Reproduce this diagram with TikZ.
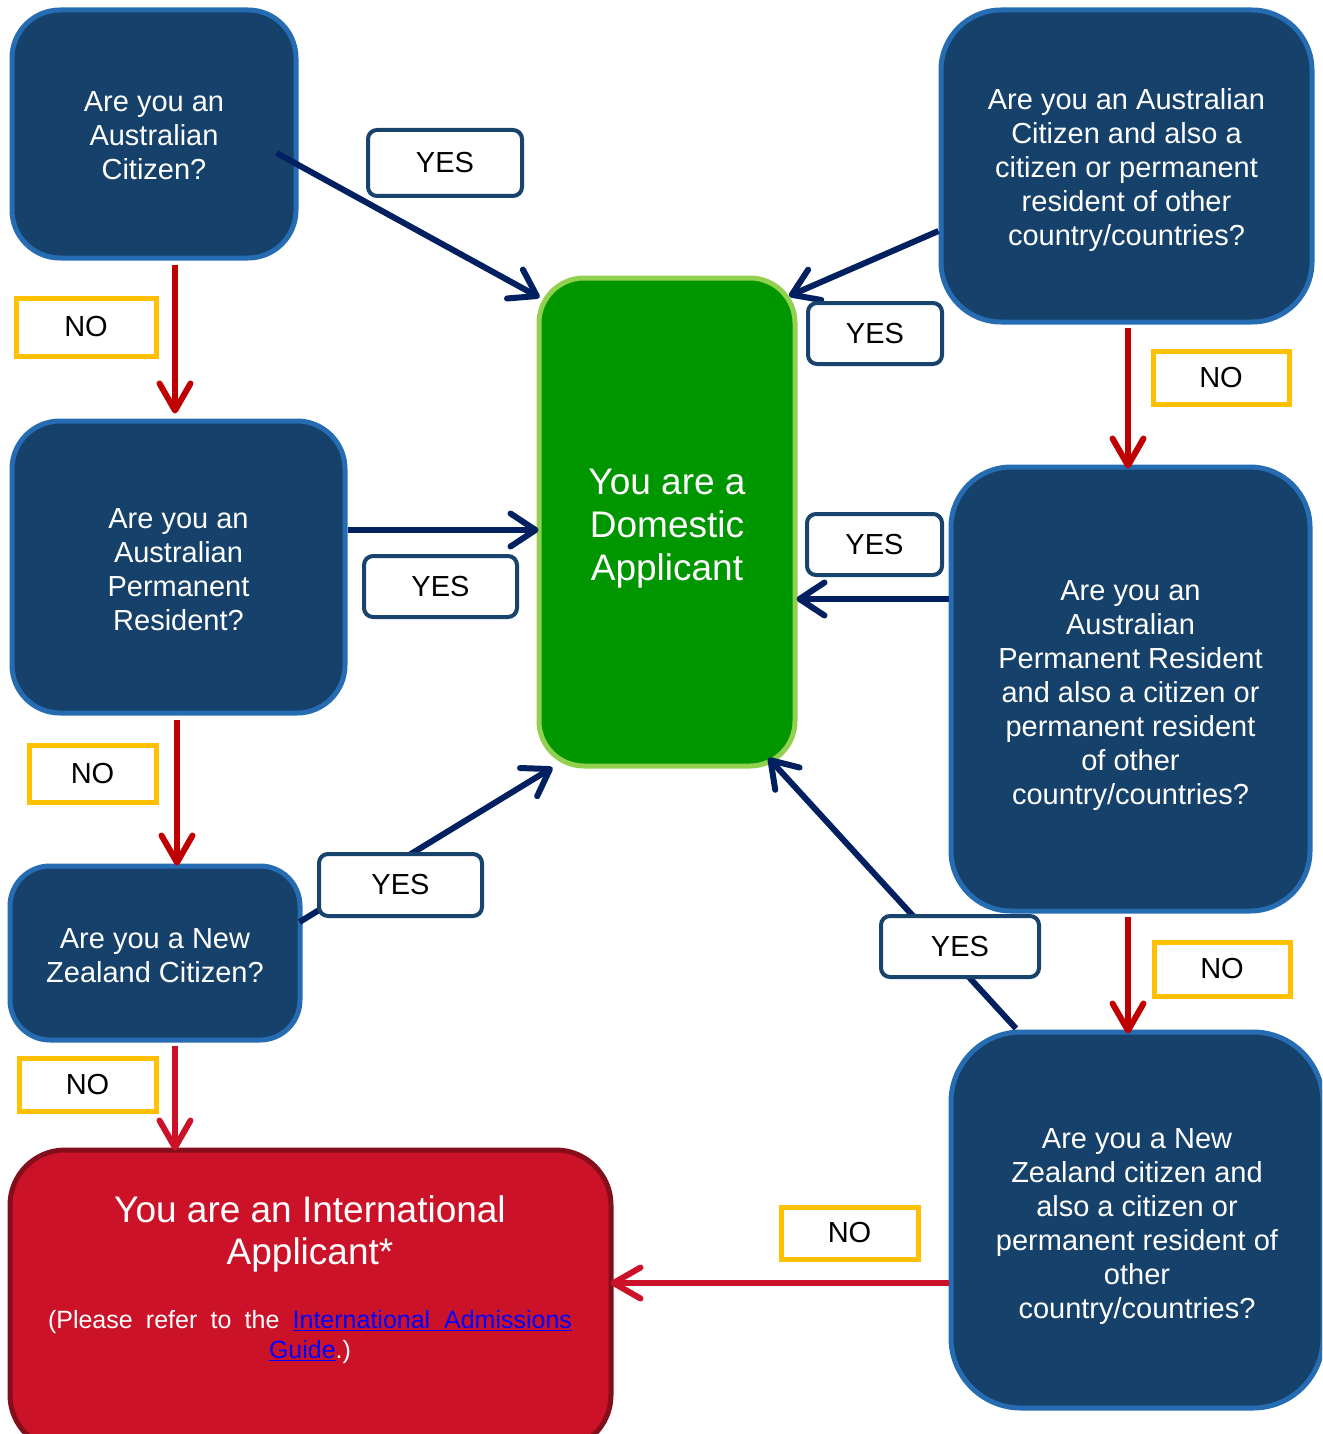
\documentclass[tikz,border=0pt]{standalone}
\usepackage{fontspec}
\setmainfont{Liberation Sans}
\usetikzlibrary{arrows.meta,calc}
\definecolor{qfill}{RGB}{22,65,106}
\definecolor{qborder}{RGB}{38,108,178}
\definecolor{gfill}{RGB}{0,150,0}
\definecolor{gborder}{RGB}{146,208,80}
\definecolor{rfill}{RGB}{204,18,40}
\definecolor{rborder}{RGB}{133,14,28}
\definecolor{yesborder}{RGB}{24,67,108}
\definecolor{noborder}{RGB}{255,192,0}
\definecolor{navyline}{RGB}{0,32,96}
\definecolor{redline}{RGB}{192,0,0}
\definecolor{redline2}{RGB}{204,18,40}
\definecolor{linkblue}{RGB}{0,0,255}
\newcommand\qlift[1]{\rule{0pt}{#1}}
\begin{document}
\begin{tikzpicture}[x=1pt,y=-1pt,
  qbox/.style={draw=qborder, fill=qfill, line width=5pt, rounded corners=48pt,
    text=white, align=center, font=\fontsize{29}{34}\selectfont, inner sep=0pt},
  gbox/.style={draw=gborder, fill=gfill, line width=5pt, rounded corners=45pt,
    text=white, align=center, font=\fontsize{37}{43}\selectfont, inner sep=0pt},
  rbox/.style={draw=rborder, fill=rfill, line width=5pt, rounded corners=55pt, inner sep=0pt},
  yeslabel/.style={draw=yesborder, fill=white, line width=4pt, rounded corners=9pt,
    font=\fontsize{29}{34}\selectfont, inner sep=0pt},
  nolabel/.style={draw=noborder, fill=white, line width=5pt,
    font=\fontsize{29}{34}\selectfont, inner sep=0pt},
  yesarrow/.style={draw=navyline, line width=6pt, -{Straight Barb[length=25pt,width=33pt,round]}},
  noarrow/.style={draw=redline, line width=6pt, -{Straight Barb[length=27pt,width=31pt,round]}},
  noarrowb/.style={draw=redline2, line width=6pt, -{Straight Barb[length=27pt,width=31pt,round]}},
  whitetext/.style={text=white, align=center, inner sep=0pt}
]
\useasboundingbox (0,0) rectangle (1322,1434);
\clip (0,0) rectangle (1322,1434);

% question boxes
\node[qbox, minimum width=284pt, minimum height=248pt] (A) at (154,134)
  {\qlift{24pt}Are you an\\Australian\\Citizen?};
\node[qbox, minimum width=333pt, minimum height=292pt] (B) at (178.5,567)
  {\qlift{25pt}Are you an\\Australian\\Permanent\\Resident?};
\node[qbox, minimum width=290pt, minimum height=174pt, rounded corners=40pt] (C) at (155,953)
  {\qlift{26pt}Are you a New\\Zealand Citizen?};
\node[qbox, minimum width=371pt, minimum height=312pt, rounded corners=60pt] (D) at (1126.5,166)
  {\qlift{29pt}Are you an Australian\\Citizen and also a\\citizen or permanent\\resident of other\\country/countries?};
\node[qbox, minimum width=359pt, minimum height=444pt, rounded corners=60pt] (E) at (1130.5,689)
  {\qlift{33pt}Are you an\\Australian\\Permanent Resident\\and also a citizen or\\permanent resident\\of other\\country/countries?};
\node[qbox, minimum width=372pt, minimum height=376pt, rounded corners=70pt] (F) at (1137,1220)
  {\qlift{33pt}Are you a New\\Zealand citizen and\\also a citizen or\\permanent resident of\\other\\country/countries?};

% outcome boxes
\node[gbox, minimum width=256pt, minimum height=488pt] (G) at (667,522)
  {\qlift{38.5pt}You are a\\Domestic\\Applicant};
\node[rbox, minimum width=601pt, minimum height=300pt] (I) at (310.5,1300) {};
\node[whitetext, font=\fontsize{37}{42}\selectfont] (Ititle) at (310,1230)
  {\qlift{35pt}You are an International\\Applicant*};
\node[whitetext, font=\fontsize{25}{30}\selectfont] (Inote) at (310,1335)
  {\qlift{22pt}\makebox[524pt][s]{(Please refer to the \textcolor{linkblue}{\underline{International\ \ Admissions}}}\\
   \textcolor{linkblue}{\underline{Guide}}.)};

% connectors
\draw[noarrow]  ($(A.south)+(21,4)$) -- ($(B.north)+(-3.5,-5)$);
\draw[yesarrow] ($(A.east)+(-22,19)$) -- ($(G.north west)+(3,22)$);
\draw[yesarrow] ($(B.east)+(0,-37)$) -- ($(G.west)+(2,8)$);
\draw[noarrow]  ($(B.south)+(-1.5,4)$) -- ($(C.north)+(22,2)$);
\draw[yesarrow] ($(C.east)+(-3,-31)$) -- ($(G.south west)+(16,-1)$);
\draw[noarrowb] ($(C.south)+(20,3)$) -- ($(I.north)+(-135.5,3)$);
\draw[yesarrow] ($(D.west)+(0,65)$) -- ($(G.north east)+(-8.5,20.5)$);
\draw[noarrow]  ($(D.south)+(1.5,3)$) -- ($(E.north)+(-2.5,4)$);
\draw[yesarrow] ($(E.west)+(0,-90)$) -- ($(G.east)+(-1,77)$);
\draw[noarrow]  ($(E.south)+(-2.5,3)$) -- ($(F.north)+(-9,4)$);
\draw[yesarrow] ($(F.north)+(-121,-1)$) -- ($(G.south east)+(-29,-10.5)$);
\draw[noarrowb] ($(F.west)+(0,63)$) -- ($(I.east)+(-3,-17)$);

% labels
\node[yeslabel, minimum width=154pt, minimum height=66pt] (y1) at (445,163) {YES};
\node[nolabel,  minimum width=140pt, minimum height=58pt] (n1) at (86,327) {NO};
\node[yeslabel, minimum width=134pt, minimum height=61pt] (y2) at (875,333.5) {YES};
\node[nolabel,  minimum width=136pt, minimum height=53pt] (n2) at (1221,377.5) {NO};
\node[yeslabel, minimum width=153pt, minimum height=61pt] (y3) at (440.5,586.5) {YES};
\node[yeslabel, minimum width=135pt, minimum height=61pt] (y4) at (874.5,544.5) {YES};
\node[nolabel,  minimum width=127pt, minimum height=57pt] (n3) at (92.5,773.5) {NO};
\node[yeslabel, minimum width=163pt, minimum height=62pt] (y5) at (400.5,885) {YES};
\node[yeslabel, minimum width=158pt, minimum height=61pt] (y6) at (960,946.5) {YES};
\node[nolabel,  minimum width=136pt, minimum height=54pt] (n4) at (1222,969) {NO};
\node[nolabel,  minimum width=137pt, minimum height=53pt] (n5) at (87.5,1084.5) {NO};
\node[nolabel,  minimum width=137pt, minimum height=52pt] (n6) at (849.5,1233) {NO};
\end{tikzpicture}
\end{document}
